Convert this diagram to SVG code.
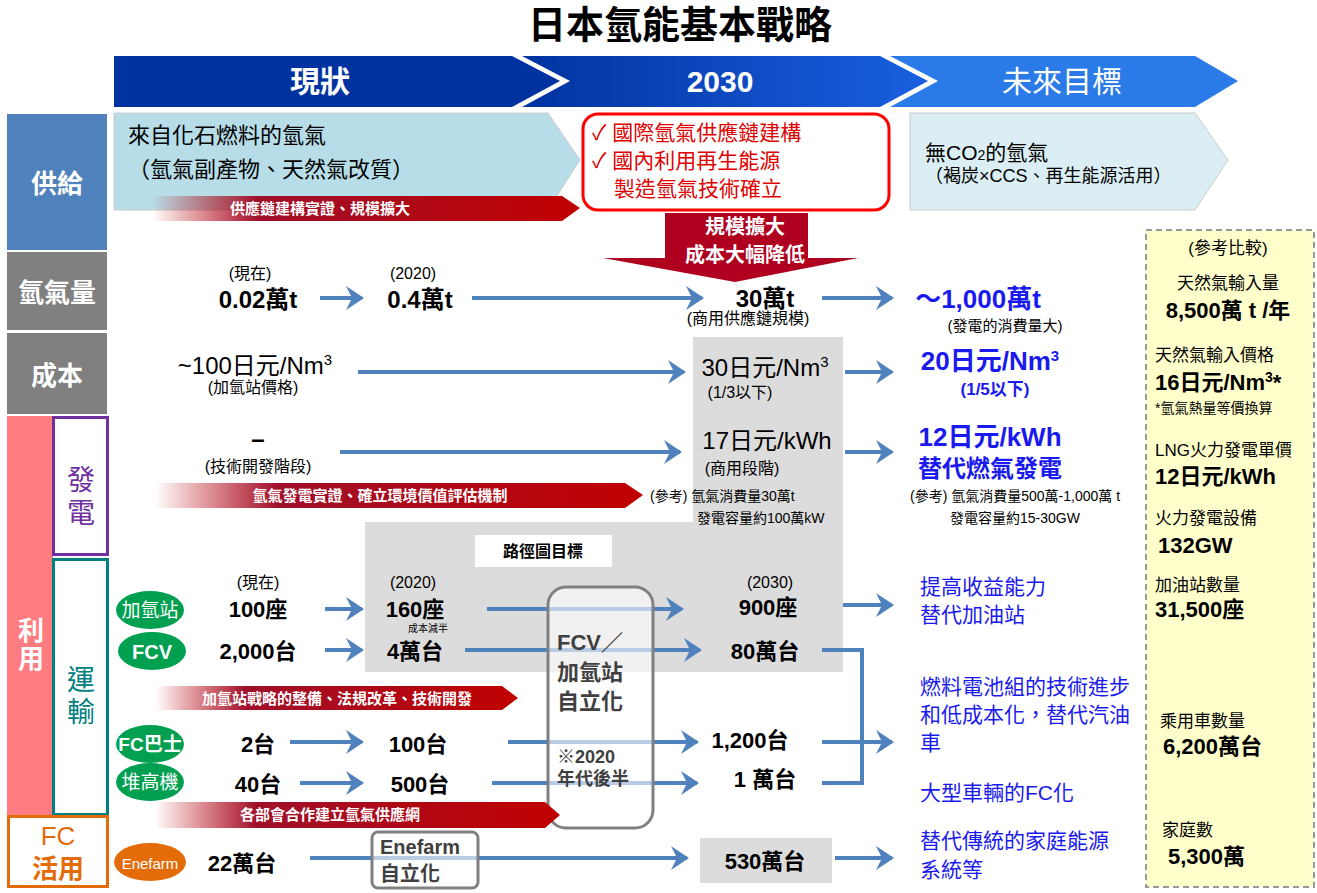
<svg xmlns="http://www.w3.org/2000/svg" width="1317" height="893" viewBox="0 0 1317 893">
<defs>
<style>
text{font-family:"Liberation Sans","Noto Sans CJK TC",sans-serif;fill:#000}
.b{font-weight:bold}
.w{fill:#fff}
.bl{fill:#1a1aee}
.c{text-anchor:middle}
.s16{font-size:16px}
.s22{font-size:22px}
.s24{font-size:24px}
.ln{stroke:#4f81bd;stroke-width:4;fill:none}
.ar{marker-end:url(#ah)}
.ban{fill:url(#rg)}
.bt{font-size:15px;font-weight:bold;fill:#fff}
.gr{fill:#00a050}
.rs{font-size:17px}
</style>
<marker id="ah" markerWidth="6" markerHeight="6" refX="4" refY="3" orient="auto" markerUnits="strokeWidth"><path d="M0,0 L4.5,3 L0,6 L1.5,3 Z" fill="#4f81bd"/></marker>
<linearGradient id="rg" x1="0" x2="1" y1="0" y2="0"><stop offset="0" stop-color="#c00000" stop-opacity="0"/><stop offset="0.25" stop-color="#a0102a"/><stop offset="1" stop-color="#c00000"/></linearGradient>
<linearGradient id="hb" x1="0" x2="1"><stop offset="0" stop-color="#0033a0"/><stop offset="1" stop-color="#1a5fe0"/></linearGradient>
</defs>
<rect width="1317" height="893" fill="#fff"/>
<text x="680" y="38" class="c b" font-size="38">日本氫能基本戰略</text>
<g id="header">
<polygon points="114,56 512,56 560,81 512,107 114,107" fill="#0033a0"/>
<polygon points="522,56 880,56 928,81 880,107 522,107 570,81" fill="url(#hb)"/>
<polygon points="890,56 1195,56 1238,81 1195,107 890,107 938,81" fill="#2a7ae8"/>
<text x="320" y="92" class="c b w" font-size="30">現狀</text>
<text x="720" y="92" class="c b w" font-size="30">2030</text>
<text x="1062" y="92" class="c w" font-size="30">未來目標</text>
</g>
<g id="rowlabels">
<rect x="7" y="114" width="100" height="136" fill="#4f81bd"/><text x="57" y="193" class="c b w" font-size="26">供給</text>
<rect x="7" y="252" width="100" height="78" fill="#808080"/><text x="57" y="302" class="c b w" font-size="26">氫氣量</text>
<rect x="7" y="333" width="100" height="81" fill="#808080"/><text x="57" y="385" class="c b w" font-size="26">成本</text>
<rect x="7" y="416" width="46" height="399" fill="#ff7c80"/><text x="31" y="640" class="c b w" font-size="26">利</text><text x="31" y="668" class="c b w" font-size="26">用</text>
<rect x="53.5" y="417.5" width="54" height="137" fill="#fff" stroke="#7030a0" stroke-width="3"/><text x="81" y="490" class="c" font-size="28" style="fill:#7030a0">發</text><text x="81" y="523" class="c" font-size="28" style="fill:#7030a0">電</text>
<rect x="53.5" y="559.5" width="54" height="255" fill="#fff" stroke="#008080" stroke-width="3"/><text x="81" y="690" class="c" font-size="28" style="fill:#008080">運</text><text x="81" y="722" class="c" font-size="28" style="fill:#008080">輸</text>
<rect x="8.5" y="816.5" width="99" height="70" fill="#fff" stroke="#e36c09" stroke-width="3"/><text x="58" y="845" class="c" font-size="26" style="fill:#e36c09">FC</text><text x="58" y="878" class="c b" font-size="26" style="fill:#e36c09">活用</text>
</g>
<g id="graybg">
<polygon points="693,337 843,337 843,672 365,672 365,522 693,522" fill="#dcdcdc"/>
<rect x="700" y="838" width="132" height="45" fill="#dcdcdc"/>
</g>
<g id="supply">
<polygon points="114,113 548,113 580,160 548,210 114,210" fill="#b7dde8" stroke="#ccc"/>
<text x="128" y="143" font-size="22">來自化石燃料的氫氣</text>
<text x="128" y="177" font-size="22">（氫氣副產物、天然氣改質）</text>
<polygon points="152,196 562,196 580,208 562,221 152,221" class="ban"/>
<text x="320" y="214" class="bt c">供應鏈建構實證、規模擴大</text>
<rect x="583" y="114" width="306" height="96" rx="15" fill="#fff" stroke="#ff0000" stroke-width="3"/>
<text x="592" y="140" font-size="21" style="fill:#e00000">✓ 國際氫氣供應鏈建構</text>
<text x="592" y="168" font-size="21" style="fill:#e00000">✓ 國內利用再生能源</text>
<text x="614" y="196" font-size="21" style="fill:#e00000">製造氫氣技術確立</text>
<polygon points="910,113 1195,113 1228,160 1195,210 910,210" fill="#daeef3" stroke="#ccc"/>
<text x="925" y="160" font-size="21">無CO<tspan font-size="14">2</tspan>的氫氣</text>
<text x="925" y="182" font-size="18">（褐炭×CCS、再生能源活用）</text>
</g>
<g id="bigarrow">
<polygon points="665,213 808,213 808,258 858,258 735,282 603,258 665,258" fill="#b00020"/>
<text x="745" y="234" class="c b w" font-size="20">規模擴大</text>
<text x="745" y="262" class="c b w" font-size="20">成本大幅降低</text>
</g>
<g id="connectors">
<line x1="320" y1="298" x2="362" y2="298" class="ln ar"/>
<line x1="472" y1="298" x2="702" y2="298" class="ln ar"/>
<line x1="822" y1="298" x2="892" y2="298" class="ln ar"/>
<line x1="358" y1="372" x2="684" y2="372" class="ln ar"/>
<line x1="845" y1="372" x2="892" y2="372" class="ln ar"/>
<line x1="340" y1="452" x2="680" y2="452" class="ln ar"/>
<line x1="845" y1="452" x2="892" y2="452" class="ln ar"/>
<line x1="325" y1="609" x2="362" y2="609" class="ln ar"/>
<line x1="487" y1="609" x2="682" y2="609" class="ln ar"/>
<line x1="843" y1="605" x2="892" y2="605" class="ln ar"/>
<line x1="325" y1="650" x2="362" y2="650" class="ln ar"/>
<line x1="465" y1="650" x2="700" y2="650" class="ln ar"/>
<line x1="290" y1="742" x2="362" y2="742" class="ln ar"/>
<line x1="508" y1="742" x2="697" y2="742" class="ln ar"/>
<line x1="300" y1="783" x2="362" y2="783" class="ln ar"/>
<line x1="492" y1="783" x2="697" y2="783" class="ln ar"/>
<polyline points="822,650 862,650 862,783 822,783" class="ln"/>
<line x1="822" y1="742" x2="862" y2="742" class="ln"/>
<line x1="862" y1="742" x2="892" y2="742" class="ln ar"/>
<line x1="310" y1="858" x2="687" y2="858" class="ln ar"/>
<line x1="835" y1="858" x2="892" y2="858" class="ln ar"/>
</g>
<g id="amount">
<text x="250" y="279" class="c s16">(現在)</text>
<text x="258" y="308" class="c b s24">0.02萬t</text>
<text x="413" y="279" class="c s16">(2020)</text>
<text x="420" y="308" class="c b s24">0.4萬t</text>
<text x="765" y="307" class="c b s24">30萬t</text>
<text x="748" y="324" class="c s16">(商用供應鏈規模)</text>
<text x="978" y="308" class="c b bl" font-size="26">～1,000萬t</text>
<text x="1005" y="331" class="c" font-size="15">(發電的消費量大)</text>
</g>
<g id="cost">
<text x="255" y="374" class="c s24">~100日元/Nm<tspan font-size="15" dy="-9">3</tspan></text>
<text x="253" y="393" class="c s16">(加氫站價格)</text>
<text x="765" y="376" class="c s24">30日元/Nm<tspan font-size="15" dy="-9">3</tspan></text>
<text x="740" y="398" class="c s16">(1/3以下)</text>
<text x="990" y="370" class="c b bl" font-size="26">20日元/Nm<tspan font-size="15" dy="-9">3</tspan></text>
<text x="995" y="395" class="c b bl rs">(1/5以下)</text>
</g>
<g id="power">
<text x="258" y="447" class="c b s24">–</text>
<text x="258" y="472" class="c s16">(技術開發階段)</text>
<text x="767" y="449" class="c s24">17日元/kWh</text>
<text x="742" y="474" class="c s16">(商用段階)</text>
<text x="990" y="446" class="c b bl" font-size="26">12日元/kWh</text>
<text x="990" y="477" class="c b bl s24">替代燃氣發電</text>
<polygon points="155,483 625,483 643,495 625,508 155,508" class="ban"/>
<text x="380" y="501" class="bt c">氫氣發電實證、確立環境價值評估機制</text>
<text x="650" y="501" font-size="14">(參考) 氫氣消費量30萬t</text>
<text x="697" y="523" font-size="14">發電容量約100萬kW</text>
<text x="1015" y="501" class="c" font-size="14">(參考) 氫氣消費量500萬-1,000萬 t</text>
<text x="1015" y="523" class="c" font-size="14">發電容量約15-30GW</text>
</g>
<g id="transport">
<rect x="475" y="535" width="137" height="32" fill="#fff"/>
<text x="543" y="557" class="c b s16">路徑圖目標</text>
<text x="258" y="588" class="c s16">(現在)</text>
<text x="413" y="588" class="c s16">(2020)</text>
<text x="770" y="588" class="c s16">(2030)</text>
<ellipse cx="150" cy="610" rx="34" ry="19" class="gr"/><text x="150" y="617" class="c w" font-size="19">加氫站</text>
<ellipse cx="152" cy="651" rx="34" ry="19" class="gr"/><text x="152" y="659" class="c b w" font-size="20">FCV</text>
<ellipse cx="150" cy="744" rx="34" ry="19" class="gr"/><text x="150" y="751" class="c b w" font-size="19">FC巴士</text>
<ellipse cx="150" cy="782" rx="34" ry="19" class="gr"/><text x="150" y="789" class="c w" font-size="19">堆高機</text>
<text x="258" y="617" class="c b s22">100座</text>
<text x="415" y="617" class="c b s22">160座</text>
<text x="428" y="632" class="c" font-size="10">成本減半</text>
<text x="768" y="615" class="c b s22">900座</text>
<text x="258" y="659" class="c b s22">2,000台</text>
<text x="415" y="659" class="c b s22">4萬台</text>
<text x="765" y="659" class="c b s22">80萬台</text>
<rect x="548" y="587" width="105" height="241" rx="18" fill="#fff" fill-opacity="0.6" stroke="#808080" stroke-width="3"/>
<text x="557" y="650" class="b s22" style="fill:#404040">FCV／</text>
<text x="557" y="680" class="b s22" style="fill:#404040">加氫站</text>
<text x="557" y="709" class="b s22" style="fill:#404040">自立化</text>
<text x="557" y="763" class="b" font-size="18" style="fill:#404040">※2020</text>
<text x="557" y="785" class="b" font-size="18" style="fill:#404040">年代後半</text>
<polygon points="155,686 502,686 518,698 502,710 155,710" class="ban"/>
<text x="337" y="704" class="bt c">加氫站戰略的整備、法規改革、技術開發</text>
<text x="258" y="752" class="c b s22">2台</text>
<text x="418" y="752" class="c b s22">100台</text>
<text x="750" y="748" class="c b s22">1,200台</text>
<text x="258" y="792" class="c b s22">40台</text>
<text x="420" y="792" class="c b s22">500台</text>
<text x="765" y="787" class="c b s22">1 萬台</text>
<polygon points="155,802 545,802 560,815 545,828 155,828" class="ban"/>
<text x="330" y="820" class="bt c">各部會合作建立氫氣供應網</text>
<text x="920" y="594" class="bl" font-size="21">提高收益能力</text>
<text x="920" y="622" class="bl" font-size="21">替代加油站</text>
<text x="920" y="694" class="bl" font-size="21">燃料電池組的技術進步</text>
<text x="920" y="722" class="bl" font-size="21">和低成本化，替代汽油</text>
<text x="920" y="750" class="bl" font-size="21">車</text>
<text x="920" y="800" class="bl" font-size="21">大型車輛的FC化</text>
</g>
<g id="fc">
<ellipse cx="150" cy="862" rx="36" ry="19" fill="#e36c09"/><text x="150" y="869" class="c w" font-size="15">Enefarm</text>
<text x="242" y="871" class="c b s22">22萬台</text>
<rect x="372" y="832" width="106" height="56" rx="6" fill="#fff" fill-opacity="0.6" stroke="#808080" stroke-width="3"/>
<text x="380" y="854" class="b" font-size="20" style="fill:#404040">Enefarm</text>
<text x="380" y="881" class="b" font-size="20" style="fill:#404040">自立化</text>
<text x="765" y="869" class="c b s22">530萬台</text>
<text x="920" y="848" class="bl" font-size="21">替代傳統的家庭能源</text>
<text x="920" y="877" class="bl" font-size="21">系統等</text>
</g>
<g id="reference">
<rect x="1146" y="230" width="168" height="657" fill="#ffffcc" stroke="#999" stroke-width="2" stroke-dasharray="6,4"/>
<text x="1228" y="254" class="c rs">(參考比較)</text>
<text x="1228" y="289" class="c rs">天然氣輸入量</text>
<text x="1228" y="318" class="c b s22">8,500萬 t /年</text>
<text x="1155" y="361" class="rs">天然氣輸入價格</text>
<text x="1155" y="390" class="b s22">16日元/Nm<tspan font-size="14" dy="-8">3</tspan><tspan dy="8">*</tspan></text>
<text x="1155" y="413" font-size="14">*氫氣熱量等價換算</text>
<text x="1155" y="456" class="rs">LNG火力發電單價</text>
<text x="1155" y="484" class="b s22">12日元/kWh</text>
<text x="1155" y="524" class="rs">火力發電設備</text>
<text x="1158" y="553" class="b s22">132GW</text>
<text x="1155" y="591" class="rs">加油站數量</text>
<text x="1155" y="617" class="b s22">31,500座</text>
<text x="1160" y="727" class="rs">乘用車數量</text>
<text x="1163" y="754" class="b s22">6,200萬台</text>
<text x="1162" y="836" class="rs">家庭數</text>
<text x="1168" y="864" class="b s22">5,300萬</text>
</g>
</svg>
